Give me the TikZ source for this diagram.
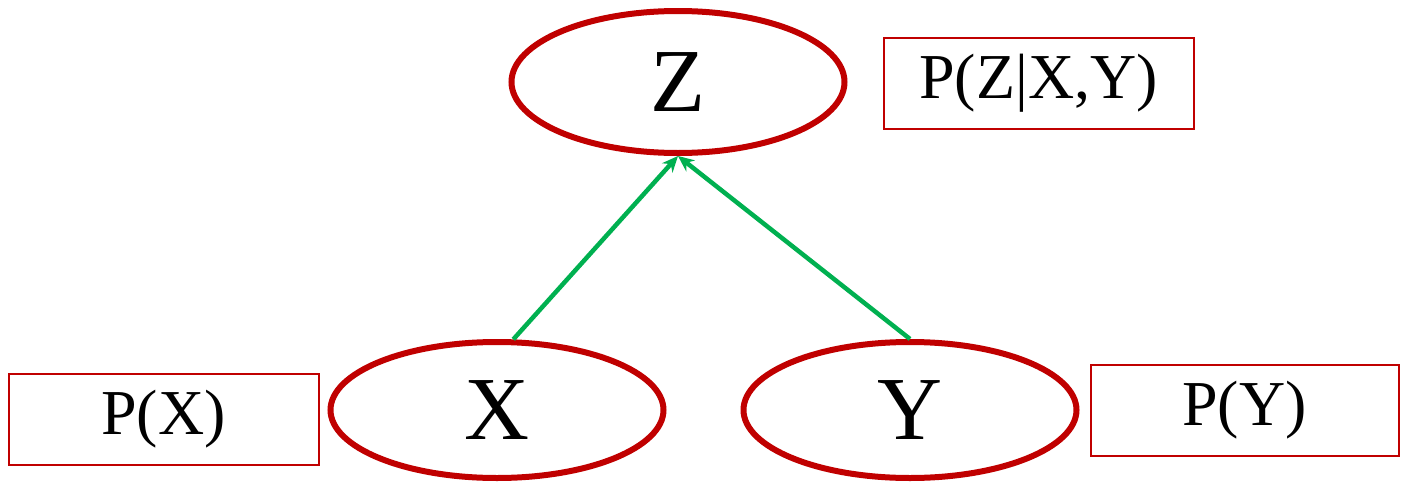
\documentclass[tikz,border=0pt]{standalone}
\usepackage{fontspec}
\setmainfont{Liberation Serif}
\usetikzlibrary{shapes.geometric,arrows.meta}
\definecolor{nodered}{RGB}{192,0,0}
\definecolor{arrowgreen}{RGB}{0,176,80}
\tikzset{
  var/.style={ellipse,draw=nodered,line width=6pt,inner sep=0pt,minimum width=333pt,minimum height=136pt,font=\fontsize{90}{90}\selectfont},
  prob/.style={rectangle,draw=nodered,line width=2pt,inner sep=0pt,minimum width=310pt,minimum height=91pt,font=\fontsize{64}{64}\selectfont},
  edge/.style={draw=arrowgreen,line width=4.5pt,-{Stealth[length=16pt,width=14pt]}}
}
\begin{document}
\begin{tikzpicture}[x=1pt,y=-1pt]
\useasboundingbox (0,0) rectangle (1401,482);
\node[var,minimum height=142pt] (Z) at (678,82) {Z};
\node[var] (X) at (497,410) {X};
\node[var] (Y) at (910,410) {Y};
\node[prob] (PZ) at (1038.5,83) {P(Z|X,Y)};
\node[prob] (PX) at (163.5,419) {P(X)};
\node[prob,minimum width=308pt] (PY) at (1244.5,410) {P(Y)};
\draw[edge] (X.77) -- (Z.south);
\draw[edge] (Y.north) -- (Z.south);
\end{tikzpicture}
\end{document}
